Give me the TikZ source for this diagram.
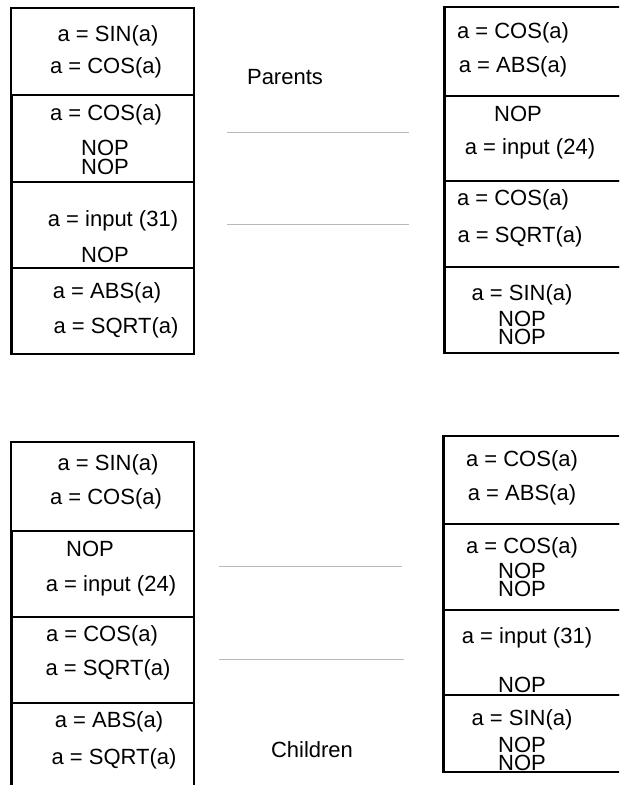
\documentclass[tikz,border=0pt]{standalone}
\usepackage{fontspec}
\setmainfont{Liberation Sans}
\begin{document}
\begin{tikzpicture}[x=1pt,y=-1pt,
  seg/.style={draw=black, line width=2pt, rectangle, anchor=north west,
    inner sep=0pt, outer sep=0pt},
  op/.style={font=\fontsize{22}{26}\selectfont, inner sep=0pt, anchor=center},
  nops/.style={font=\fontsize{22}{18.5}\selectfont, inner sep=0pt,
    anchor=center, align=center},
  link/.style={draw=black!27, line width=1pt}]

\clip (0,0) rectangle (619,785);
\fill[white] (0,0) rectangle (619,785);

% ---------- parent 1 (top left) ----------
\node[seg, minimum width=183pt, minimum height=87pt] (pa1) at (11,8) {};
\node[seg, minimum width=183pt, minimum height=87pt] (pa2) at (11,95) {};
\node[seg, minimum width=183pt, minimum height=86pt] (pa3) at (11,182) {};
\node[seg, minimum width=183pt, minimum height=86pt] (pa4) at (11,268) {};
\draw[line width=3pt] (pa2.north west) -- (pa4.south west);
\node[op] (pa1a) at (108,36) {a = SIN(a)};
\node[op] (pa1b) at (106,68) {a = COS(a)};
\node[op] (pa2a) at (106,115) {a = COS(a)};
\node[nops] (pa2b) at (105,157.25) {NOP\\NOP};
\node[op] (pa3a) at (113,221) {a = input (31)};
\node[op] (pa3b) at (105,255) {NOP};
\node[op] (pa4a) at (107,293) {a = ABS(a)};
\node[op] (pa4b) at (116,328) {a = SQRT(a)};

% ---------- parent 2 (top right) ----------
\node[seg, minimum width=190pt, minimum height=89pt] (pb1) at (444,7) {};
\node[seg, minimum width=190pt, minimum height=85pt] (pb2) at (444,96) {};
\node[seg, minimum width=190pt, minimum height=86pt] (pb3) at (444,181) {};
\node[seg, minimum width=190pt, minimum height=86pt] (pb4) at (444,267) {};
\draw[line width=3pt] (pb1.north west) -- (pb4.south west);
\node[op] (pb1a) at (513,33) {a = COS(a)};
\node[op] (pb1b) at (513,67) {a = ABS(a)};
\node[op] (pb2a) at (518,114) {NOP};
\node[op] (pb2b) at (530,149) {a = input (24)};
\node[op] (pb3a) at (513,200) {a = COS(a)};
\node[op] (pb3b) at (520,237) {a = SQRT(a)};
\node[op] (pb4a) at (522,295) {a = SIN(a)};
\node[nops] (pb4b) at (522,327.75) {NOP\\NOP};

% ---------- child 1 (bottom left) ----------
\node[seg, minimum width=183pt, minimum height=89pt] (ca1) at (11,442) {};
\node[seg, minimum width=183pt, minimum height=86pt] (ca2) at (11,531) {};
\node[seg, minimum width=183pt, minimum height=86pt] (ca3) at (11,617) {};
\node[seg, minimum width=183pt, minimum height=90pt] (ca4) at (11,703) {};
\draw[line width=3pt] (ca2.north west) -- (ca4.south west);
\node[op] (ca1a) at (108,465) {a = SIN(a)};
\node[op] (ca1b) at (106,499) {a = COS(a)};
\node[op] (ca2a) at (90,549) {NOP};
\node[op] (ca2b) at (111,586) {a = input (24)};
\node[op] (ca3a) at (102,636) {a = COS(a)};
\node[op] (ca3b) at (108,670) {a = SQRT(a)};
\node[op] (ca4a) at (109,722) {a = ABS(a)};
\node[op] (ca4b) at (114,759) {a = SQRT(a)};

% ---------- child 2 (bottom right) ----------
\node[seg, minimum width=190pt, minimum height=88pt] (cb1) at (443,436) {};
\node[seg, minimum width=190pt, minimum height=86pt] (cb2) at (443,524) {};
\node[seg, minimum width=190pt, minimum height=85pt] (cb3) at (443,610) {};
\node[seg, minimum width=190pt, minimum height=77pt] (cb4) at (443,695) {};
\draw[line width=3pt] (cb1.north west) -- (cb4.south west);
\node[op] (cb1a) at (522,461) {a = COS(a)};
\node[op] (cb1b) at (522,495) {a = ABS(a)};
\node[op] (cb2a) at (522,548) {a = COS(a)};
\node[nops] (cb2b) at (522,579.75) {NOP\\NOP};
\node[op] (cb3a) at (527,638) {a = input (31)};
\node[op] (cb3b) at (522,685) {NOP};
\node[op] (cb4a) at (522,720) {a = SIN(a)};
\node[nops] (cb4b) at (522,753.75) {NOP\\NOP};

% ---------- labels ----------
\node[op] (parents) at (285,77) {Parents};
\node[op] (children) at (312,750) {Children};

% ---------- crossover points ----------
\coordinate (x1l) at (227,132); \coordinate (x1r) at (409,132);
\coordinate (x2l) at (227,224); \coordinate (x2r) at (409,224);
\coordinate (x3l) at (219,566); \coordinate (x3r) at (402,566);
\coordinate (x4l) at (219,659); \coordinate (x4r) at (404,659);
\draw[link] (x1l) -- (x1r);
\draw[link] (x2l) -- (x2r);
\draw[link] (x3l) -- (x3r);
\draw[link] (x4l) -- (x4r);
\end{tikzpicture}
\end{document}
